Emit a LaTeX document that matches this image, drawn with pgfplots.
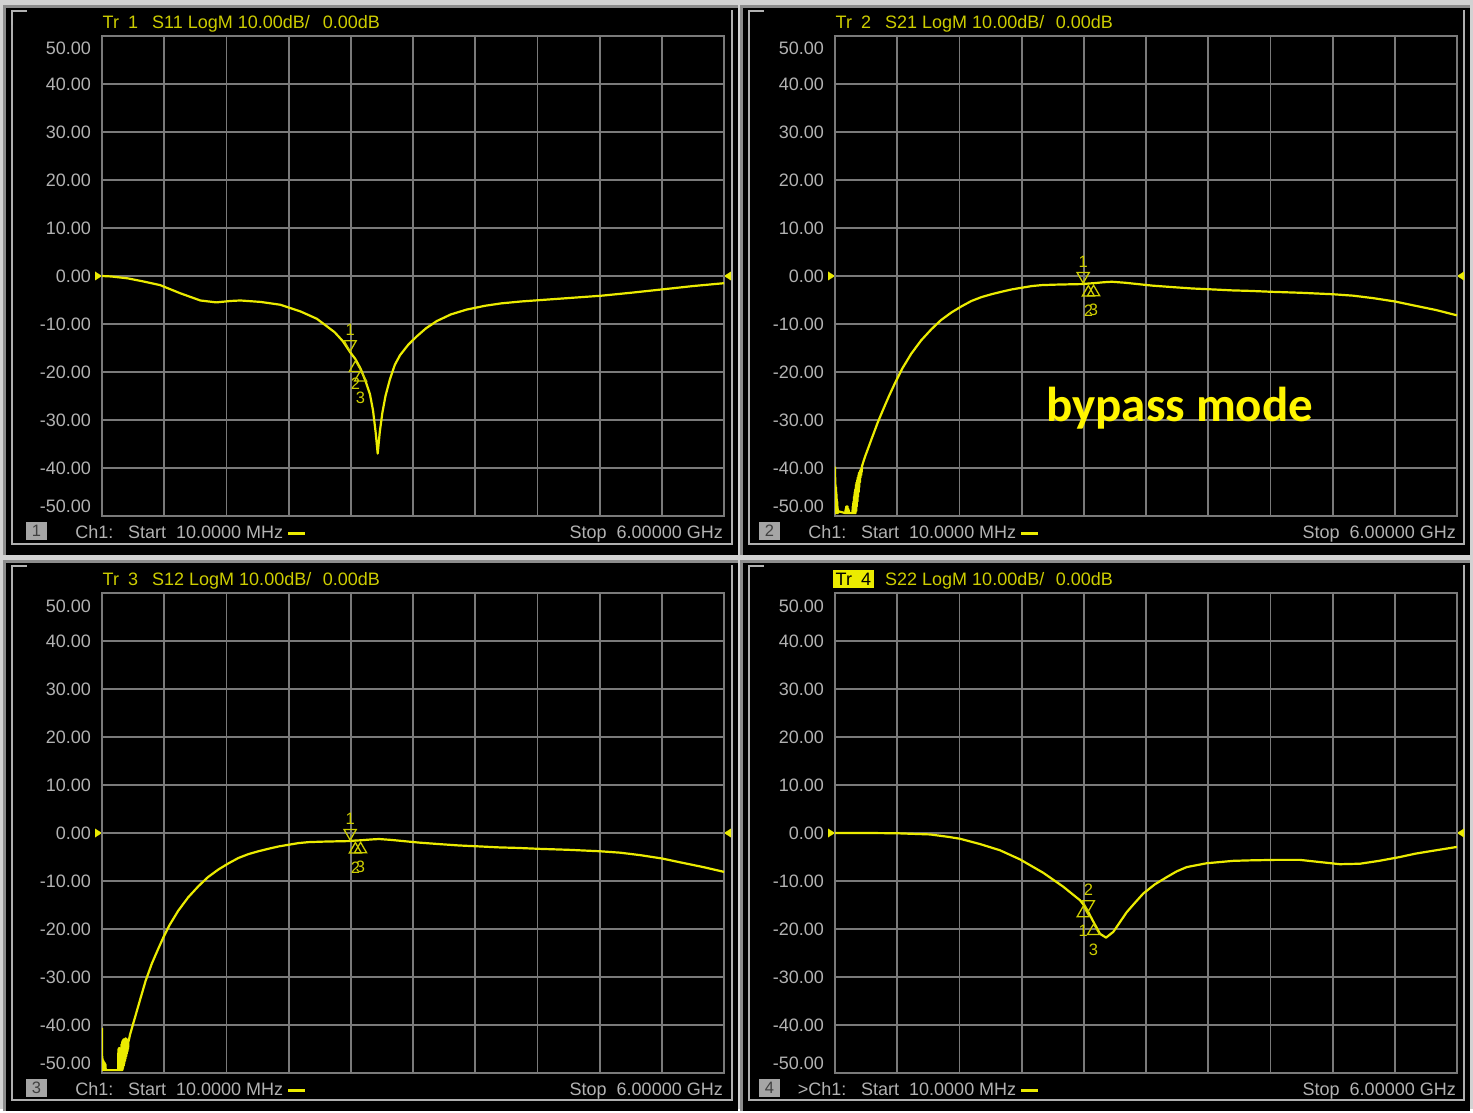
\documentclass[border=0pt]{standalone}
\usepackage{fontspec}
\setmainfont{Liberation Sans}
\newfontfamily\bpfont{Carlito}
\usepackage{pgfplots}
\usepackage{pgfplotstable}
\pgfplotsset{compat=1.18}

\definecolor{gap}{RGB}{210,210,210}
\definecolor{ofr}{RGB}{140,140,140}
\definecolor{ifr}{RGB}{175,175,175}
\definecolor{grd}{RGB}{122,122,122}
\definecolor{lbl}{RGB}{178,178,178}
\definecolor{trc}{RGB}{235,235,0}
\definecolor{ytx}{RGB}{205,205,0}
\definecolor{byp}{RGB}{255,245,0}
\definecolor{boxc}{RGB}{165,165,165}

\newcommand\vf{\fontsize{18}{20}\selectfont}
\newcommand\mf{\fontsize{16.5}{19}\selectfont}

% trace data, frequency in MHz, level in dB
\pgfplotstableread{
f d
10 0
100 -0.1
261 -0.5
400 -1.1
570 -1.9
764 -3.6
957 -5.1
1111 -5.5
1250 -5.2
1343 -5.1
1537 -5.4
1730 -6.0
1923 -7.4
2078 -8.9
2250 -11.7
2330 -13.6
2400 -15.88
2450 -17.30
2500 -19.29
2550 -22.0
2590 -24.6
2620 -28.0
2645 -32.5
2665 -37.0
2685 -32.5
2710 -28.5
2740 -25.0
2783 -21.5
2830 -18.5
2880 -16.5
2960 -14.3
3040 -12.6
3130 -10.9
3233 -9.4
3370 -8.0
3521 -7.0
3700 -6.2
3856 -5.7
4050 -5.3
4242 -5.0
4500 -4.6
4822 -4.1
5100 -3.5
5402 -2.8
5700 -2.1
6000 -1.5
}\sxi

\pgfplotstableread[row sep=\\]{
f d\\
10 -39.7\\ 11.5 -49.4\\ 13 -42\\ 14.5 -49.4\\ 16 -43.5\\ 17.5 -49.4\\ 19 -44\\ 20.5 -49.4\\
22 -45\\ 23.5 -49.4\\ 25 -45.5\\ 26.5 -49.4\\ 28 -46.5\\ 29.5 -49.4\\ 31 -47\\ 32.5 -49.4\\
34 -48\\ 35.5 -49.4\\ 37 -48.5\\ 38.5 -49.4\\ 40 -49\\ 110 -49.4\\ 113 -48.5\\ 116 -49.4\\
119 -48\\ 122 -49.4\\ 125 -48.2\\ 128 -49.4\\ 131 -48\\ 134 -49.4\\ 137 -48.5\\ 140 -49.4\\
143 -48.8\\ 146 -49.4\\ 178 -49.4\\ 181 -48\\ 184 -49.4\\ 187 -47\\ 190 -49.4\\ 193 -46\\
196 -49.4\\ 199 -45\\ 202 -49.4\\ 205 -44.5\\ 208 -49.4\\ 211 -43.5\\ 214 -49\\ 217 -43\\
220 -48\\ 223 -42.5\\ 226 -47\\ 229 -42\\ 232 -46\\ 235 -41.5\\ 238 -45\\ 241 -41\\
244 -44\\ 247 -40.8\\ 250 -43\\ 253 -40.5\\ 256 -42\\ 259 -40.2\\ 262 -41.5\\ 265 -40\\
268 -40.8\\ 270 -39.6\\
300 -37.6\\ 358 -34.2\\ 420 -30.6\\ 474 -27.8\\ 530 -25.0\\ 590 -22.2\\ 660 -19.2\\
744 -16.2\\ 840 -13.4\\ 938 -11.1\\ 1030 -9.2\\ 1131 -7.6\\ 1230 -6.3\\ 1324 -5.2\\
1420 -4.4\\ 1517 -3.8\\ 1610 -3.3\\ 1711 -2.8\\ 1820 -2.4\\ 1904 -2.1\\ 2000 -1.9\\
2136 -1.8\\ 2300 -1.72\\ 2400 -1.68\\ 2450 -1.57\\ 2500 -1.50\\ 2600 -1.3\\ 2677 -1.2\\
2800 -1.4\\ 3063 -2.0\\ 3250 -2.3\\ 3450 -2.6\\ 3650 -2.8\\ 3836 -3.0\\ 4000 -3.1\\
4223 -3.3\\ 4500 -3.5\\ 4803 -3.8\\ 5000 -4.1\\ 5189 -4.6\\ 5400 -5.3\\ 5576 -6.1\\
5800 -7.1\\ 6000 -8.2\\
}\sxxi

\pgfplotstableread[row sep=\\]{
f d\\
10 -40.6\\ 11.5 -49.4\\ 13 -46.5\\ 14.5 -49.4\\ 16 -47\\ 17.5 -49.4\\ 19 -47.3\\ 20.5 -49.4\\
22 -47.5\\ 23.5 -49.4\\ 25 -47.5\\ 26.5 -49.4\\ 28 -47.8\\ 29.5 -49.4\\ 31 -48\\ 32.5 -49.4\\
34 -47.8\\ 35.5 -49.4\\ 38 -48\\ 40 -49.4\\ 43 -48.2\\ 46 -49.4\\ 165 -49.4\\ 168 -45\\
171 -49.4\\ 174 -44.8\\ 177 -49.4\\ 180 -44.8\\ 183 -49.4\\ 186 -45\\ 189 -49.4\\ 192 -45.2\\
195 -49.4\\ 198 -44\\ 201 -49.4\\ 204 -43.5\\ 207 -49.4\\ 210 -43.2\\ 213 -49\\ 216 -43\\
219 -48.5\\ 222 -43\\ 225 -48\\ 228 -43\\ 231 -47.5\\ 234 -42.8\\ 237 -47\\ 240 -42.8\\
243 -46.5\\ 246 -43\\ 249 -46\\ 252 -43\\ 255 -45.5\\ 258 -43.2\\ 261 -45\\ 264 -43.5\\
270 -43.0\\
280 -42.0\\ 320 -39.0\\ 376 -34.8\\ 430 -30.8\\ 490 -27.2\\ 550 -24.2\\ 600 -21.8\\
660 -19.2\\ 744 -16.2\\ 840 -13.4\\ 938 -11.1\\ 1030 -9.2\\ 1131 -7.6\\ 1230 -6.3\\
1324 -5.2\\ 1420 -4.4\\ 1517 -3.8\\ 1610 -3.3\\ 1711 -2.8\\ 1820 -2.4\\ 1904 -2.1\\
2000 -1.9\\ 2136 -1.8\\ 2300 -1.72\\ 2400 -1.68\\ 2450 -1.57\\ 2500 -1.52\\ 2600 -1.35\\
2677 -1.25\\ 2800 -1.45\\ 3063 -2.0\\ 3250 -2.3\\ 3450 -2.6\\ 3650 -2.8\\ 3836 -3.0\\
4000 -3.1\\ 4223 -3.3\\ 4500 -3.5\\ 4803 -3.8\\ 5000 -4.1\\ 5189 -4.6\\ 5400 -5.3\\
5576 -6.1\\ 5800 -7.1\\ 6000 -8.1\\
}\sxii

\pgfplotstableread{
f d
10 0
300 0
600 -0.05
925 -0.3
1100 -0.8
1214 -1.2
1406 -2.3
1599 -3.6
1792 -5.5
2016 -8.3
2209 -11.2
2300 -12.8
2369 -14.0
2400 -14.85
2450 -16.50
2500 -18.56
2562 -21.0
2620 -21.8
2690 -20.6
2750 -18.7
2819 -16.5
2900 -14.5
2979 -12.6
3090 -10.7
3204 -9.2
3300 -8.0
3397 -7.1
3590 -6.3
3846 -5.8
4006 -5.7
4250 -5.6
4487 -5.6
4700 -6.1
4872 -6.5
5066 -6.4
5250 -5.8
5451 -5.0
5600 -4.3
5740 -3.8
6000 -2.9
}\sxxii

\pgfplotsset{
  vna/.style={
    width=622pt, height=480pt, scale only axis, anchor=north west,
    xmin=10, xmax=6000, ymin=-50, ymax=50,
    xtick={609,1208,1807,2406,3005,3604,4203,4802,5401},
    xmajorticks=false,
    ytick={-40,-30,...,40},
    yticklabels={-40.00,-30.00,-20.00,-10.00,0.00,10.00,20.00,30.00,40.00},
    yticklabel style={font=\vf, text=lbl, inner sep=0pt, xshift=-11pt},
    grid=major, major grid style={draw=grd, line width=1.8pt},
    axis line style={draw=grd, line width=1.8pt},
    major tick length=0pt, tick style={draw=none},
    axis background/.style={fill=black},
  },
  tr/.style={trc, no markers, line width=2.2pt, line join=round},
  % marker triangles: active marker points down above the trace, others up below it
  mdown/.style={only marks, mark=triangle, mark size=7pt, ytx, line width=1.3pt,
    mark options={yshift=8pt, rotate=180, fill=none, draw=ytx}},
  mup/.style={only marks, mark=triangle, mark size=7pt, ytx, line width=1.3pt,
    mark options={yshift=-9pt, fill=none, draw=ytx}},
  ldown/.style={only marks, mark=text, text mark={#1}, text mark as node=true,
    text mark style={font=\mf, text=ytx, inner sep=0pt, yshift=22.5pt}},
  lup/.style 2 args={only marks, mark=text, text mark={#1}, text mark as node=true,
    text mark style={font=\mf, text=ytx, inner sep=0pt, yshift=-#2pt}},
}

% panel frame: x1 y1 x2 y2 in pixels, y downward
\newcommand\frm[4]{%
  \fill[black] (#1pt,-#2pt) rectangle (#3pt,-#4pt);
  \draw[ofr, line width=3pt] (#1pt+1.5pt,-#4pt) -- (#1pt+1.5pt,-#2pt-1.5pt) -- (#3pt,-#2pt-1.5pt);
  \draw[ifr, line width=2pt] (#1pt+9pt,-#2pt-5pt) -- (#1pt+9pt,-#4pt+11pt) -- (#3pt-6pt,-#4pt+11pt) -- (#3pt-6pt,-#2pt-5pt);
  \draw[lbl, line width=2.5pt] (#1pt+9pt,-#2pt-20pt) -- (#1pt+9pt,-#2pt-6pt) -- (#1pt+24pt,-#2pt-6pt);
}

% title, bottom line, 50/-50 labels, reference arrows: dx dy N Sxx chlabel trstyle
\newcommand\chrome[6]{%
\begin{scope}[shift={(#1pt,-#2pt)}]
  \node[anchor=base west, inner sep=2.5pt, font=\vf, text=ytx, #6] at (100pt,-28.3pt) {Tr\hspace{9pt}#3};
  \node[anchor=base west, inner sep=0pt, font=\vf, text=ytx] at (152pt,-28.3pt) {#4 LogM 10.00dB/};
  \node[anchor=base east, inner sep=0pt, font=\vf, text=ytx] at (380pt,-28.3pt) {0.00dB};
  \node[anchor=base east, inner sep=0pt, font=\vf, text=lbl] at (91pt,-55pt) {50.00};
  \node[anchor=base east, inner sep=0pt, font=\vf, text=lbl] at (91pt,-512pt) {-50.00};
  \node[fill=boxc, text=black!75, inner sep=0pt, minimum width=21pt, minimum height=18pt, font=\mf] at (36.5pt,-531pt) {#3};
  \node[anchor=base east, inner sep=0pt, font=\vf, text=lbl] at (113.5pt,-538.4pt) {#5};
  \node[anchor=base west, inner sep=0pt, font=\vf, text=lbl] at (128pt,-538.4pt) {Start};
  \node[anchor=base west, inner sep=0pt, font=\vf, text=lbl] at (176pt,-538.4pt) {10.0000 MHz};
  \draw[trc, line width=3pt] (288pt,-533pt) -- (305pt,-533pt);
  \node[anchor=base east, inner sep=0pt, font=\vf, text=lbl] at (723pt,-538.4pt) {Stop\hspace{10pt}6.00000 GHz};
  \fill[trc] (95pt,-271.5pt) -- (102pt,-276pt) -- (95pt,-280.5pt) -- cycle;
  \fill[trc] (731pt,-271.5pt) -- (724pt,-276pt) -- (731pt,-280.5pt) -- cycle;
\end{scope}}

% marker readout table: dx dy lab1 lab2 v1 v2 v3
\newcommand\mtab[7]{%
\begin{scope}[shift={(#1pt,-#2pt)}, every node/.style={inner sep=0pt, font=\vf, text=ytx}]
  \node[anchor=base east] at (465pt,-54pt) {#3};
  \node[anchor=base east] at (465pt,-75pt) {#4};
  \node[anchor=base east] at (465pt,-96.5pt) {3:};
  \node[anchor=base east] at (607pt,-54pt) {2.400 GHz};
  \node[anchor=base east] at (607pt,-75pt) {2.450 GHz};
  \node[anchor=base east] at (607pt,-96.5pt) {2.500 GHz};
  \node[anchor=base east] at (720pt,-54pt) {#5 dB};
  \node[anchor=base east] at (720pt,-75pt) {#6 dB};
  \node[anchor=base east] at (720pt,-96.5pt) {#7 dB};
\end{scope}}

\begin{document}
\begin{tikzpicture}
\fill[gap] (0pt,0pt) rectangle (1473pt,-1109pt);
\frm{3}{5}{738}{555}
\frm{740}{5}{1470}{555}
\frm{3}{560}{738}{1111}
\frm{740}{560}{1470}{1111}

\chrome{0}{0}{1}{S11}{Ch1:}{}
\chrome{733}{0}{2}{S21}{Ch1:}{}
\chrome{0}{557}{3}{S12}{Ch1:}{}
\chrome{733}{557}{4}{S22}{>Ch1:}{fill=trc, text=black}

\mtab{0}{0}{> 1:}{2:}{-15.88}{-17.30}{-19.29}
\mtab{733}{0}{> 1:}{2:}{-1.68}{-1.57}{-1.50}
\mtab{0}{557}{> 1:}{2:}{-1.68}{-1.57}{-1.52}
\mtab{733}{557}{1:}{> 2:}{-14.85}{-16.50}{-18.56}

% Tr 1 S11
\begin{axis}[vna, at={(102pt,-36pt)}]
\addplot[tr] table[x=f,y=d] {\sxi};
\addplot[mdown] coordinates {(2400,-15.88)};
\addplot[ldown=1] coordinates {(2400,-15.88)};
\addplot[mup] coordinates {(2450,-17.30) (2500,-19.29)};
\addplot[lup={2}{24.5}] coordinates {(2450,-17.30)};
\addplot[lup={3}{29}] coordinates {(2500,-19.29)};
\end{axis}

% Tr 2 S21
\begin{axis}[vna, at={(835pt,-36pt)}]
\addplot[tr] table[x=f,y=d] {\sxxi};
\addplot[mdown] coordinates {(2400,-1.68)};
\addplot[ldown=1] coordinates {(2400,-1.68)};
\addplot[mup] coordinates {(2450,-1.57) (2500,-1.50)};
\addplot[lup={2}{27}] coordinates {(2450,-1.57)};
\addplot[lup={3}{27}] coordinates {(2500,-1.50)};
\end{axis}

% Tr 3 S12
\begin{axis}[vna, at={(102pt,-593pt)}]
\addplot[tr] table[x=f,y=d] {\sxii};
\addplot[mdown] coordinates {(2400,-1.68)};
\addplot[ldown=1] coordinates {(2400,-1.68)};
\addplot[mup] coordinates {(2450,-1.57) (2500,-1.52)};
\addplot[lup={2}{27}] coordinates {(2450,-1.57)};
\addplot[lup={3}{27}] coordinates {(2500,-1.52)};
\end{axis}

% Tr 4 S22
\begin{axis}[vna, at={(835pt,-593pt)}]
\addplot[tr] table[x=f,y=d] {\sxxii};
\addplot[mup] coordinates {(2400,-14.85) (2500,-18.56)};
\addplot[lup={1}{27}] coordinates {(2400,-14.85)};
\addplot[lup={3}{28}] coordinates {(2500,-18.56)};
\addplot[mdown] coordinates {(2450,-16.50)};
\addplot[ldown=2] coordinates {(2450,-16.50)};
\end{axis}

\node[anchor=base west, inner sep=0pt, text=byp, font={\bpfont\bfseries\fontsize{49}{55}\selectfont}] at (1046pt,-421pt) {bypass mode};
\end{tikzpicture}
\end{document}
